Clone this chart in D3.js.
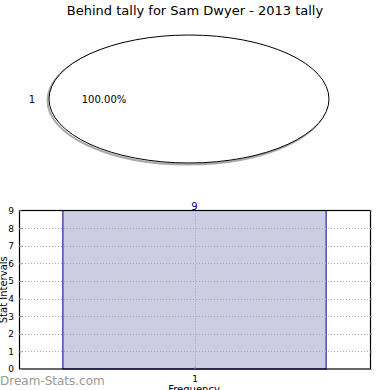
<!DOCTYPE html>
<html>
<head>
<meta charset="utf-8">
<script src="https://cdn.jsdelivr.net/npm/d3@7"></script>
<style>
  body { margin: 0; background: #fff; }
  text { font-family: "DejaVu Sans", sans-serif; }
</style>
</head>
<body>
<svg id="chart" width="390" height="390"></svg>
<script>
// pie data
var pieLabels = ["1"];
var pieValues = [9];

// bar data
var barCategories = [1];
var barValues = [9];
var yTicks = [0, 1, 2, 3, 4, 5, 6, 7, 8, 9];

var svg = d3.select("#chart");

svg.append("text")
  .attr("x", 195).attr("y", 15)
  .attr("text-anchor", "middle")
  .style("font-size", "13px")
  .text("Behind tally for Sam Dwyer - 2013 tally");

//-------------------------------
// pie (drawn squashed into an ellipse)
var cx = 189, cy = 99, rx = 140, ry = 64;
var pie = d3.pie().sort(null)(pieValues);
var arc = d3.arc().innerRadius(0).outerRadius(1);
var total = d3.sum(pieValues);

var gShadow = svg.append("g")
  .attr("transform", "translate(" + (cx - 1.5) + "," + (cy + 1.5) + ") scale(" + rx + "," + ry + ")");
gShadow.selectAll("path").data(pie).enter().append("path")
  .attr("d", arc)
  .attr("fill", "none")
  .attr("stroke", "#aaa")
  .attr("stroke-width", 2)
  .attr("vector-effect", "non-scaling-stroke");

var gPie = svg.append("g")
  .attr("transform", "translate(" + cx + "," + cy + ") scale(" + rx + "," + ry + ")");
gPie.selectAll("path").data(pie).enter().append("path")
  .attr("d", arc)
  .attr("fill", "#fff")
  .attr("stroke", "#000")
  .attr("stroke-width", 1)
  .attr("vector-effect", "non-scaling-stroke");

pie.forEach(function(d, i) {
  svg.append("text")
    .attr("x", 32).attr("y", cy + 4)
    .attr("text-anchor", "middle")
    .style("font-size", "10px")
    .text(pieLabels[i]);
  svg.append("text")
    .attr("x", 104).attr("y", cy + 4)
    .attr("text-anchor", "middle")
    .style("font-size", "10px")
    .text(d3.format(".2f")(d.value / total * 100) + "%");
});

//-------------------------------
// bar chart
var pLeft = 19, pRight = 370, pTop = 210.5, pBottom = 369;

var x = d3.scaleLinear().domain([0.5, 1.5]).range([pLeft, pRight]);
var y = d3.scaleLinear().domain([0, 9]).range([pBottom, pTop]);
var barW = 0.75;

var gBar = svg.append("g");

// bars
gBar.selectAll(".bar")
  .data(barCategories)
  .enter().append("rect")
    .attr("class", "bar")
    .attr("x", function(d) { return x(d - barW / 2); })
    .attr("y", function(d, i) { return y(barValues[i]); })
    .attr("width", function(d) { return x(d + barW / 2) - x(d - barW / 2); })
    .attr("height", function(d, i) { return pBottom - y(barValues[i]); })
    .attr("fill", "#ccccE3")
    .attr("stroke", "#000088")
    .attr("stroke-width", 1);

// grid
gBar.selectAll(".hgrid")
  .data(yTicks.slice(1, -1))
  .enter().append("line")
    .attr("x1", pLeft).attr("x2", pRight)
    .attr("y1", function(d) { return Math.round(y(d)) + 0.5; })
    .attr("y2", function(d) { return Math.round(y(d)) + 0.5; })
    .attr("stroke", "#aaa")
    .attr("stroke-dasharray", "1,2");
gBar.selectAll(".vgrid")
  .data(barCategories)
  .enter().append("line")
    .attr("x1", function(d) { return Math.round(x(d)) + 0.5; })
    .attr("x2", function(d) { return Math.round(x(d)) + 0.5; })
    .attr("y1", pTop).attr("y2", pBottom)
    .attr("stroke", "#aaa")
    .attr("stroke-dasharray", "1,2");

// frame
gBar.append("rect")
  .attr("x", pLeft + 0.5).attr("y", pTop)
  .attr("width", pRight - pLeft).attr("height", pBottom - pTop)
  .attr("fill", "none").attr("stroke", "#000").attr("stroke-width", 1.2);

// y axes
var yAxisL = gBar.append("g")
  .attr("transform", "translate(" + pLeft + ",0)")
  .call(d3.axisLeft(y).tickValues(yTicks).tickSize(-3).tickPadding(5));
var yAxisR = gBar.append("g")
  .attr("transform", "translate(" + pRight + ",0)")
  .call(d3.axisRight(y).tickValues(yTicks).tickSize(3).tickFormat(""));
var xAxis = gBar.append("g")
  .attr("transform", "translate(0," + pBottom + ")")
  .call(d3.axisBottom(x).tickValues(barCategories).tickSize(3).tickPadding(4).tickFormat(d3.format("d")));

[yAxisL, yAxisR, xAxis].forEach(function(a) {
  a.select(".domain").remove();
  a.selectAll(".tick line").attr("stroke", "#999");
  a.selectAll(".tick text").style("font-size", "9px").attr("fill", "#000")
    .style("font-family", "DejaVu Sans, sans-serif");
});
xAxis.selectAll(".tick line").attr("y2", -3);
yAxisR.selectAll(".tick line").attr("x2", 2);

// value labels
gBar.selectAll(".vlabel")
  .data(barCategories)
  .enter().append("text")
    .attr("x", function(d) { return x(d); })
    .attr("y", function(d, i) { return y(barValues[i]) - 1; })
    .attr("text-anchor", "middle")
    .attr("fill", "#000088")
    .style("font-size", "10px")
    .text(function(d, i) { return barValues[i]; });

// axis titles
svg.append("text")
  .attr("transform", "translate(7," + ((pTop + pBottom) / 2) + ") rotate(-90)")
  .attr("text-anchor", "middle")
  .style("font-size", "10px")
  .text("Stat Intervals");
svg.append("text")
  .attr("x", 194).attr("y", 393)
  .attr("text-anchor", "middle")
  .style("font-size", "10px")
  .text("Frequency");

// watermark
svg.append("text")
  .attr("x", 0).attr("y", 385)
  .attr("fill", "#999")
  .style("font-size", "12px")
  .text("Dream-Stats.com");
</script>
</body>
</html>
